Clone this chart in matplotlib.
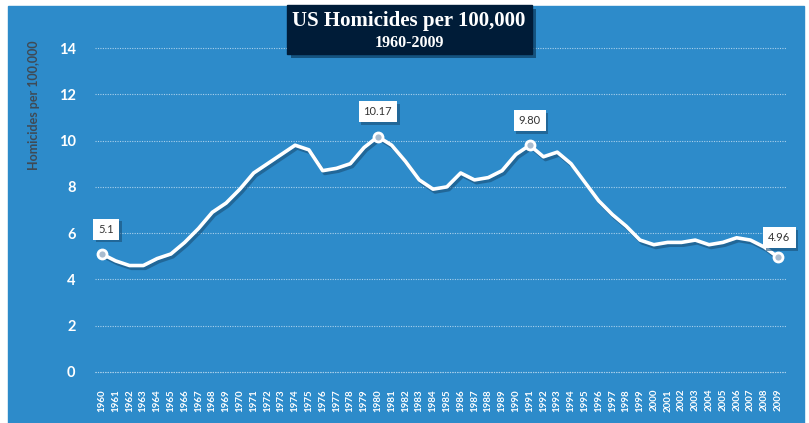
import matplotlib
matplotlib.use('Agg')
import matplotlib.pyplot as plt
import matplotlib.patches as mpatches
import matplotlib.patheffects as pe

BG = '#2d8bca'
NAVY = '#001c38'
GRID = '#a9d0ec'
LABEL_GREY = '#3f4a55'

years = list(range(1960, 2010))
rates = [5.1, 4.8, 4.6, 4.6, 4.9, 5.1, 5.6, 6.2, 6.9, 7.3,
         7.9, 8.6, 9.0, 9.4, 9.8, 9.6, 8.7, 8.8, 9.0, 9.7,
         10.17, 9.8, 9.1, 8.3, 7.9, 8.0, 8.6, 8.3, 8.4, 8.7,
         9.4, 9.80, 9.3, 9.5, 9.0, 8.2, 7.4, 6.8, 6.3, 5.7,
         5.5, 5.6, 5.6, 5.7, 5.5, 5.6, 5.8, 5.7, 5.4, 4.96]
callout_years = [1960, 1980, 1991, 2009]
callout_text = ['5.1', '10.17', '9.80', '4.96']
yticks = [0, 2, 4, 6, 8, 10, 12, 14]

W, H = 809, 423
fig = plt.figure(figsize=(W / 100, H / 100), dpi=100)
fig.patch.set_facecolor('white')

# blue panel behind everything
fig.patches.append(mpatches.Rectangle((8 / W, 0), 796 / W, 417 / H,
                                      transform=fig.transFigure, color=BG, zorder=-10))

ax = fig.add_axes([95 / W, 48 / H, 692 / W, 330 / H])
ax.set_zorder(1)
ax.set_facecolor('none')
ax.set_xlim(1959.5, 2009.65)
ax.set_ylim(-0.13, 14.13)
for sp in ax.spines.values():
    sp.set_visible(False)

ax.set_yticks(yticks)
ax.set_yticklabels([str(t) for t in yticks], color='white', fontsize=10.5,
                   fontweight='bold', family='Lato')
ax.set_xticks(years)
ax.set_xticklabels([str(y) for y in years], rotation=90, color='white',
                   fontsize=7, fontweight='bold', family='Lato')
ax.tick_params(axis='y', length=0, pad=14)
ax.tick_params(axis='x', length=0, pad=10)
ax.grid(axis='y', color=GRID, lw=0.8, ls=(0, (1, 1.2)))
ax.axhline(0, color=GRID, lw=0.8, ls=(0, (1, 1.2)), zorder=0.5)
ax.set_axisbelow(True)

ax.plot(years, rates, color='white', lw=2.6, solid_joinstyle='round', zorder=3,
        path_effects=[pe.SimpleLineShadow(offset=(1.5, -2), shadow_color='#1a4f78', alpha=0.6),
                      pe.Normal()])

for yr, txt in zip(callout_years, callout_text):
    v = rates[years.index(yr)]
    ax.plot([yr], [v], 'o', ms=6.5, mfc='#a9bccf', mec='white', mew=2, zorder=4,
            clip_on=False)
    dx = 3 if yr == 1960 else (1 if yr == 2009 else 0)
    dy = 10 if yr == 2009 else 14
    ax.annotate(txt, (yr, v), xytext=(dx, dy), textcoords='offset points',
                ha='center', va='bottom', fontsize=8, color='#333333', family='Lato',
                zorder=5,
                bbox=dict(boxstyle='square,pad=0.45', fc='white', ec='none',
                          path_effects=[pe.withSimplePatchShadow(offset=(2, -2),
                                                                 shadow_rgbFace='#1a4f78',
                                                                 alpha=0.6)]))

fig.text(34 / W, 1 - 105 / H, 'Homicides per 100,000', rotation=90, ha='center', va='center',
         fontsize=9, fontweight='bold', color=LABEL_GREY, family='Lato')

# title box
fig.patches.append(mpatches.Rectangle((287 / W, 1 - 54 / H), 245 / W, 49 / H,
                                      transform=fig.transFigure, color=NAVY, zorder=5,
                                      path_effects=[pe.withSimplePatchShadow(offset=(3, -3),
                                                                             shadow_rgbFace='#0b3c60',
                                                                             alpha=0.7)]))
fig.text(409 / W, 1 - 21 / H, 'US Homicides per 100,000', ha='center', va='center',
         fontsize=15, fontweight='bold', color='white', family='Liberation Serif', zorder=6)
fig.text(409 / W, 1 - 43 / H, '1960-2009', ha='center', va='center',
         fontsize=11.5, fontweight='bold', color='white', family='Liberation Serif', zorder=6)

fig.savefig('out.png', dpi=100, facecolor='white')
